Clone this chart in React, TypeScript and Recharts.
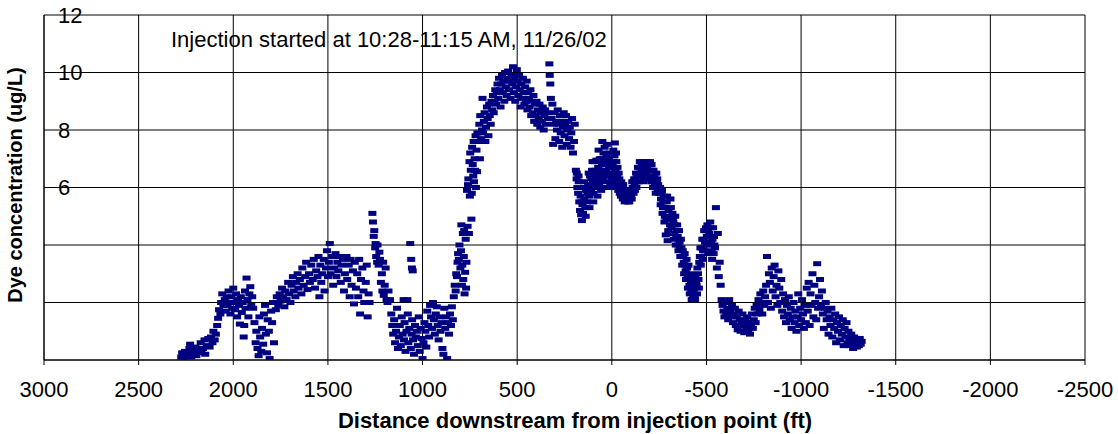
import React from 'react';
import { ScatterChart, Scatter, XAxis, YAxis, CartesianGrid } from 'recharts';

type Pt = [number, number];

// [distance downstream (ft), dye concentration (ug/L)]
const startLow: Pt[] = [
  [2275,0.1],[2270,0.25],[2262,0.05],[2255,0.3],[2250,0.15],[2240,0.2],[2232,0.4],[2228,0.55],[2222,0.1],[2215,0.3],
  [2205,0.2],[2200,0.45],[2195,0.15],[2188,0.35],[2180,0.25],[2172,0.6],[2168,0.3],[2160,0.4],[2152,0.7],[2148,0.2],
  [2140,0.5],[2132,0.75],[2125,0.45],[2118,0.8],[2110,0.6],[2105,1.0],[2098,0.7],[2092,0.9],[2085,1.2],[2080,1.45],
  [2075,1.75],[2068,1.6],[2064,2.0],[2058,2.3],[2052,1.9],
];

const firstHump: Pt[] = [
  [2045,2.1],[2040,1.7],[2035,2.2],[2030,1.9],[2025,2.4],[2020,2.0],[2015,1.6],[2010,2.2],[2005,1.8],[2000,2.5],
  [1995,2.0],[1990,1.75],[1985,2.3],[1980,1.5],[1975,2.1],[1970,1.9],[1965,1.25],[1960,2.2],[1955,1.65],[1950,2.0],
  [1945,0.8],[1942,1.2],[1938,2.4],[1935,1.8],[1930,2.85],[1925,2.1],[1920,1.5],[1915,2.3],[1910,2.55],[1905,1.9],[1900,2.2],
];

const firstDip: Pt[] = [
  [1895,1.8],[1888,1.3],[1882,0.6],[1878,1.0],[1872,0.4],[1866,0.15],[1862,1.5],[1858,0.8],[1852,0.3],[1848,1.1],
  [1842,0.55],[1838,1.6],[1832,1.9],[1828,0.9],[1822,0.25],[1818,1.4],[1812,1.0],[1808,0.05],[1800,1.7],[1795,1.3],
  [1790,2.0],[1785,0.6],
];

const slowRise: Pt[] = [
  [1780,2.0],[1775,1.75],[1770,2.2],[1762,1.9],[1755,2.3],[1750,2.05],[1742,2.5],[1738,2.2],[1730,1.85],[1725,2.4],
  [1718,2.1],[1710,2.7],[1705,2.3],[1698,2.0],[1692,2.6],[1685,2.9],[1680,2.4],[1672,2.2],[1668,2.7],[1660,3.0],
  [1655,2.5],[1648,2.8],[1640,2.3],[1635,3.2],[1628,2.6],[1620,2.9],[1615,3.4],[1608,2.45],[1600,3.0],[1595,2.7],
  [1588,3.3],[1580,2.8],[1575,3.5],[1568,2.5],[1562,3.1],[1555,2.9],[1550,3.6],[1545,2.2],[1540,3.3],[1535,2.7],
  [1530,3.0],[1522,3.5],[1518,2.4],[1510,3.2],[1505,3.8],[1500,2.9],
];

const secondHump: Pt[] = [
  [1495,3.4],[1490,4.05],[1485,3.0],[1478,3.6],[1472,2.6],[1468,3.2],[1460,3.7],[1455,2.9],[1450,3.4],[1445,3.1],
  [1438,3.6],[1432,2.7],[1428,3.3],[1420,3.5],[1415,2.4],[1410,3.0],[1402,3.6],[1398,2.8],[1390,3.3],[1385,2.2],
  [1380,3.5],[1375,2.6],[1368,3.1],[1362,1.95],[1358,3.4],[1352,2.5],[1345,3.0],[1340,2.2],[1335,3.5],[1330,1.6],
  [1325,2.8],[1318,3.2],[1312,2.4],[1308,2.0],[1300,2.7],[1295,3.3],[1290,1.5],[1285,2.3],[1280,2.0],
  [1265,5.1],[1262,4.8],[1258,4.3],[1255,4.5],[1250,3.9],[1248,4.05],[1245,3.6],[1240,3.4],[1238,4.0],[1232,3.3],
  [1228,3.75],[1225,3.5],[1220,2.7],[1215,3.0],[1212,2.4],[1208,3.4],[1205,2.25],[1200,2.6],[1195,3.2],[1190,2.1],
  [1185,2.0],[1180,2.4],[1172,2.1],
];

const lowTrough: Pt[] = [
  [1165,1.6],[1160,1.2],[1155,0.9],[1150,1.4],[1145,0.6],[1140,1.0],[1135,1.8],[1130,0.4],[1125,0.8],[1120,1.2],
  [1115,0.5],[1110,1.5],[1105,0.9],[1100,2.1],[1098,0.7],[1095,1.3],[1090,0.3],[1085,1.0],[1080,2.1],[1078,1.6],
  [1075,0.6],[1070,1.1],[1065,4.05],[1062,0.4],[1060,3.5],[1058,0.9],[1056,3.2],[1055,1.4],[1052,3.1],[1050,0.7],
  [1045,0.2],[1040,1.2],[1035,0.8],[1030,1.0],[1025,0.5],[1020,1.5],[1015,0.3],[1010,1.1],[1005,0.75],[1000,0.05],
  [995,0.6],[990,1.3],[985,1.0],[980,0.45],[975,1.7],[970,1.2],[965,0.8],[960,1.9],[955,1.5],[950,1.1],
  [945,2.0],[940,1.4],[935,0.9],[930,1.6],[925,1.85],[920,1.2],[915,0.7],[910,1.5],[905,1.0],[900,1.3],
  [895,0.4],[890,0.2],[885,1.8],[880,1.1],[875,1.5],[870,0.05],[865,1.3],[860,0.9],[855,1.6],[850,1.2],
  [845,1.85],[840,1.4],
];

const steepRise: Pt[] = [
  [835,2.2],[830,2.6],[825,2.4],[822,3.0],[818,2.9],[815,3.4],[812,3.7],[808,3.5],[805,4.0],[800,3.2],
  [797,3.8],[795,4.7],[792,2.6],[790,3.3],[787,4.4],[785,2.8],[782,3.6],[780,4.5],[778,2.3],[775,3.05],
  [772,4.2],[770,2.5],[768,3.4],[765,5.9],[762,4.65],[760,6.1],[758,6.3],[755,4.4],[752,6.9],[750,5.7],
  [748,7.2],[745,6.6],[742,4.9],[740,5.8],[738,7.4],[735,6.8],[732,6.4],[730,7.6],[728,6.2],[725,7.0],
  [722,6.6],[720,7.8],[718,6.0],[715,7.3],[712,6.55],[710,7.9],[705,7.6],[700,8.2],[697,7.0],[695,8.5],
  [690,7.7],[686,8.0],[683,9.1],
];

const mainPeak: Pt[] = [
  [680,7.9],[676,8.3],[672,8.6],[668,7.6],[665,8.1],[660,8.8],[656,8.4],[652,7.8],[648,8.9],[645,8.5],
  [640,8.2],[636,9.0],[632,8.7],[628,9.2],[624,8.6],[620,9.0],[616,9.4],[612,8.9],[608,9.3],[604,9.6],
  [600,9.1],[596,9.8],[592,9.4],[588,8.8],[584,9.6],[580,9.9],[576,9.3],[572,9.7],[568,9.0],[564,10.0],
  [560,9.5],[556,9.2],[552,9.8],[548,10.05],[544,9.4],[540,9.7],[535,9.1],[530,9.9],[526,9.6],[522,10.2],
  [518,9.3],[514,9.8],[510,9.0],[506,9.5],[502,10.1],[498,9.7],[494,9.2],[490,9.9],[486,9.4],[482,8.8],
  [478,9.6],[474,9.1],[470,9.8],[466,9.3],[462,8.9],[458,9.5],[454,9.0],[450,9.7],[446,8.7],[442,9.3],
  [438,9.1],[434,8.8],[430,9.4],[426,8.5],[422,9.0],[418,8.6],[414,9.2],[410,8.3],[406,8.9],[402,8.5],
  [398,9.0],[394,8.2],[390,8.7],[386,8.4],[382,8.9],[378,8.1],[374,8.6],[370,8.3],[365,8.8],[360,8.0],
  [356,8.5],[352,8.7],[348,8.2],[342,8.6],[338,8.4],[330,10.3],[328,9.9],[325,9.6],[322,9.1],[318,8.4],
  [314,8.9],[310,7.5],[306,8.2],[302,8.6],[298,7.7],[294,8.3],[290,8.0],[286,8.7],[282,8.2],[278,7.6],
  [274,8.5],[270,7.9],[266,8.3],[262,7.4],[258,8.1],[254,8.6],[250,7.8],[246,8.2],[242,8.5],[238,7.5],
  [234,8.0],[230,8.3],[226,7.7],[222,8.1],[218,7.4],[214,7.9],[210,8.4],[205,7.2],[200,7.6],[196,8.2],
];

const secondaryPeaks: Pt[] = [
  [190,6.6],[186,6.3],[182,6.0],[178,5.8],[175,6.2],[172,5.5],[168,5.2],[165,5.7],[162,5.05],[158,4.85],
  [155,5.4],[150,6.0],[145,5.6],[140,5.3],[136,5.9],[130,5.5],[125,6.1],[120,5.7],[115,6.4],[110,5.9],
  [105,6.6],[100,6.2],[96,5.8],[92,6.5],[88,6.9],[84,6.0],[80,6.3],[76,5.7],[72,6.7],[68,6.1],
  [64,7.0],[60,6.4],[56,5.9],[52,6.8],[48,6.3],[44,7.2],[40,6.6],[36,6.0],[32,6.9],[28,7.1],
  [24,6.2],[20,6.5],[16,7.0],[12,6.4],[8,6.1],[4,6.7],[0,6.3],[-4,6.8],[-8,7.3],[-12,6.2],
  [-16,7.55],[-20,6.6],[-24,6.9],[-28,6.4],[-32,6.1],[-36,6.5],[-40,6.3],[-45,6.0],[-50,6.2],[-55,5.9],
  [-60,6.1],[-65,5.7],[-70,5.9],[-75,5.6],[-80,5.8],[-85,5.5],[-90,5.7],[-95,5.6],[-100,5.9],[-105,5.6],
  [-110,6.0],[-115,5.8],[-120,6.1],[-125,6.3],[-130,6.0],[-135,6.4],[-140,6.2],[-145,6.5],[-150,6.7],[-155,6.4],
  [-160,6.6],[-165,6.2],[-170,6.8],[-175,6.5],[-180,6.9],[-185,6.7],[-190,6.3],[-195,6.85],[-200,6.6],[-205,6.4],
  [-210,6.8],[-215,6.2],[-220,6.6],[-225,6.4],[-230,6.0],[-235,6.5],[-240,6.3],[-245,6.1],[-250,5.8],
];

const secondaryScatter: Pt[] = [
  [185,6.5],[176,6.4],[170,6.0],[160,5.5],[152,5.1],[147,6.2],[138,5.0],[128,5.8],[122,6.5],[118,5.3],
  [108,6.3],[102,6.9],[98,5.5],[94,6.1],[86,6.6],[82,6.95],[78,6.4],[74,6.0],[70,7.3],[66,6.6],
  [62,6.2],[58,7.0],[54,6.5],[50,7.6],[46,6.0],[42,6.9],[38,7.4],[34,6.4],[30,6.6],[26,7.5],
  [22,6.8],[18,6.0],[14,6.7],[10,7.2],[6,6.5],[2,6.9],[-2,6.0],[-6,6.4],[-10,6.9],[-14,7.1],
  [-18,6.4],[-22,7.2],[-26,6.1],[-30,6.7],[-34,5.9],[-38,6.2],[-42,5.8],[-48,5.7],[-52,6.0],[-58,5.6],
  [-62,5.9],[-68,5.5],[-72,5.7],[-78,5.6],[-82,5.9],[-88,5.7],[-92,5.5],[-98,5.8],[-102,5.7],[-108,6.2],
  [-112,5.9],[-118,6.3],[-122,5.9],[-128,6.5],[-132,6.2],[-138,6.7],[-142,6.4],[-148,6.9],[-152,6.5],[-158,6.8],
  [-162,6.9],[-168,6.5],[-172,6.3],[-178,6.7],[-182,6.5],[-188,6.9],[-192,6.6],[-198,6.4],[-202,6.9],[-208,6.2],
  [-212,6.6],[-218,6.0],[-222,6.3],[-228,6.1],[-232,5.8],[-238,6.2],[-242,5.9],[-248,6.0],
];

const fallingLimb: Pt[] = [
  [-255,6.0],[-260,5.6],[-265,5.9],[-270,5.3],[-275,5.7],[-280,5.0],[-285,4.35],[-290,5.5],[-295,4.15],[-300,5.2],
  [-305,4.9],[-310,5.6],[-315,4.6],[-320,5.1],[-325,4.8],[-330,4.4],[-335,5.0],[-340,4.3],[-345,4.7],[-350,4.0],
  [-355,4.5],[-360,3.9],[-365,4.2],[-370,3.6],[-375,3.8],[-380,3.4],[-385,3.7],[-390,3.1],[-395,3.5],[-400,2.9],
  [-405,3.3],[-410,2.6],[-415,3.0],[-420,2.4],[-425,2.8],[-430,2.2],[-435,2.5],[-440,2.1],[-445,2.7],[-450,2.3],
  [-455,3.0],[-460,2.5],[-465,3.6],[-470,3.3],[-475,3.9],[-480,3.5],[-485,4.2],[-490,3.8],[-495,4.5],[-500,4.0],
  [-505,4.7],[-510,3.7],[-515,4.4],[-520,4.8],[-525,4.1],[-530,3.5],[-535,4.6],[-540,4.3],[-545,3.9],[-550,5.3],
  [-555,3.2],[-560,4.4],[-565,2.9],[-570,3.4],[-575,2.6],[-580,2.1],[-585,1.9],[-590,1.7],[-595,1.5],
];

const fallingScatter: Pt[] = [
  [-258,5.4],[-262,5.8],[-268,5.1],[-272,5.5],[-278,4.8],[-282,5.3],[-288,4.9],[-292,5.7],[-298,4.5],[-302,5.0],
  [-308,4.7],[-312,5.3],[-318,4.4],[-322,4.9],[-328,4.2],[-332,4.7],[-338,4.0],[-342,4.5],[-348,4.3],[-352,3.8],
  [-358,4.1],[-362,3.6],[-368,3.9],[-372,3.3],[-378,3.6],[-382,3.0],[-388,3.3],[-392,2.8],[-398,3.2],[-402,2.5],
  [-408,2.9],[-412,2.3],[-418,2.7],[-422,2.1],[-428,2.5],[-432,2.4],[-438,2.2],[-442,2.9],[-448,2.6],[-452,3.2],
  [-458,2.8],[-462,3.4],[-468,3.9],[-472,3.6],[-478,4.2],[-482,3.8],[-488,4.5],[-492,4.1],[-498,4.6],[-502,4.3],
  [-508,4.5],[-512,4.1],[-518,4.0],[-522,4.6],[-528,3.8],[-532,4.2],[-538,3.7],[-542,4.0],
];

const tail: Pt[] = [
  [-600,2.0],[-605,1.6],[-610,1.8],[-615,1.4],[-620,2.1],[-625,1.7],[-630,1.5],[-635,1.9],[-640,1.3],[-645,1.6],
  [-650,1.8],[-655,1.2],[-660,1.5],[-665,1.05],[-670,1.7],[-675,1.4],[-680,1.0],[-685,1.3],[-690,1.6],[-695,1.2],
  [-700,0.95],[-705,1.4],[-710,1.1],[-715,1.5],[-720,1.0],[-725,1.3],[-730,0.9],[-735,1.2],[-740,1.6],[-745,1.1],
  [-750,1.4],[-755,1.8],[-760,1.3],[-765,1.9],[-770,1.6],[-775,2.1],[-780,1.75],[-785,2.3],[-790,2.0],[-795,1.6],
  [-800,2.4],[-805,1.9],[-810,2.2],[-815,2.6],[-820,3.6],[-825,2.0],[-830,3.0],[-835,2.7],[-840,1.8],[-845,3.2],
  [-850,2.4],[-855,2.9],[-860,3.3],[-865,2.2],[-870,2.6],[-875,1.9],[-880,3.1],[-885,2.5],[-890,2.0],[-895,2.8],
  [-900,1.7],[-905,2.3],[-910,1.5],[-915,2.1],[-920,1.3],[-925,1.9],[-930,1.6],[-935,2.2],[-940,1.4],[-945,1.8],
  [-950,1.1],[-955,1.5],[-960,2.0],[-965,1.3],[-970,1.7],[-975,1.0],[-980,1.5],[-985,2.3],[-990,1.2],[-995,1.8],
  [-1000,1.4],[-1005,2.1],[-1010,1.6],[-1015,1.1],[-1020,1.9],[-1025,1.3],[-1030,2.5],[-1035,1.7],[-1040,2.7],[-1045,1.2],
  [-1050,2.3],[-1055,1.9],[-1060,3.0],[-1065,1.5],[-1070,2.6],[-1075,2.0],[-1080,1.4],[-1085,3.35],[-1090,1.8],[-1095,2.2],
  [-1100,2.8],[-1105,1.9],[-1110,2.4],[-1115,1.6],[-1120,1.1],[-1125,1.8],[-1130,2.0],[-1135,1.4],[-1140,1.7],[-1145,0.9],
  [-1150,1.5],[-1155,1.2],[-1160,1.8],[-1165,0.8],[-1170,1.4],[-1175,1.1],[-1180,1.6],[-1185,0.6],[-1190,1.3],[-1195,1.0],
  [-1200,1.5],[-1205,0.7],[-1210,1.2],[-1215,0.9],[-1220,1.4],[-1225,0.5],[-1230,1.1],[-1235,0.8],[-1240,1.3],[-1245,0.6],
  [-1250,1.0],[-1255,0.75],[-1260,0.5],[-1265,0.9],[-1270,0.6],[-1275,0.4],[-1280,0.8],[-1285,0.55],[-1290,0.7],[-1295,0.45],
  [-1300,0.6],[-1305,0.5],[-1310,0.75],[-1315,0.55],[-1320,0.65],
];

const segments: Pt[][] = [
  startLow, firstHump, firstDip, slowRise, secondHump, lowTrough, steepRise, mainPeak,
  secondaryPeaks, secondaryScatter, fallingLimb, fallingScatter, tail,
];
const data = segments.flat().map(([x, y]) => ({ x, y }));

const xTicks = [3000, 2500, 2000, 1500, 1000, 500, 0, -500, -1000, -1500, -2000, -2500];
const yTicks = [0, 2, 4, 6, 8, 10, 12];
const yLabelled = [6, 8, 10, 12];

const FONT = 'Arial, "Liberation Sans", Helvetica, sans-serif';
const NAVY = '#000080';

const Marker = (props: any) => {
  const { cx, cy } = props;
  if (cx == null || cy == null) return <g />;
  return <rect x={cx - 4} y={cy - 2.5} width={8} height={5} fill={NAVY} />;
};

export default function App() {
  return (
    <div style={{ width: 1118, height: 434, background: '#fff' }}>
      <style>{`body{margin:0;background:#fff}`}</style>
      <ScatterChart width={1118} height={434} margin={{ top: 15, right: 33, bottom: 0, left: 4 }}>
        <CartesianGrid stroke="#000" strokeWidth={1} />
        <XAxis
          type="number"
          dataKey="x"
          domain={[-2500, 3000]}
          reversed
          ticks={xTicks}
          interval={0}
          allowDataOverflow
          height={74}
          tickSize={5}
          tickMargin={16}
          axisLine={{ stroke: '#000' }}
          tickLine={{ stroke: '#000' }}
          tick={{ fontSize: 22, fill: '#000', fontFamily: FONT }}
        />
        <YAxis
          type="number"
          dataKey="y"
          domain={[0, 12]}
          ticks={yTicks}
          interval={0}
          allowDataOverflow
          width={40}
          axisLine={{ stroke: '#000' }}
          tickLine={false}
          tickSize={0}
          tickMargin={-14}
          tickFormatter={(v: number) => (yLabelled.includes(v) ? String(v) : '')}
          tick={{ fontSize: 22, fill: '#000', fontFamily: FONT, textAnchor: 'start' }}
        />
        <Scatter data={data} fill={NAVY} shape={(p: any) => <Marker {...p} />} isAnimationActive={false} />
        <text x={171} y={47} fontSize={22} fontFamily={FONT} fill="#000">
          Injection started at 10:28-11:15 AM, 11/26/02
        </text>
        <text x={575} y={428} fontSize={22} fontWeight="bold" fontFamily={FONT} fill="#000" textAnchor="middle">
          Distance downstream from injection point (ft)
        </text>
        <text transform="translate(22,185) rotate(-90)" fontSize={20} fontWeight="bold" fontFamily={FONT} fill="#000" textAnchor="middle">
          Dye concentration (ug/L)
        </text>
      </ScatterChart>
    </div>
  );
}
